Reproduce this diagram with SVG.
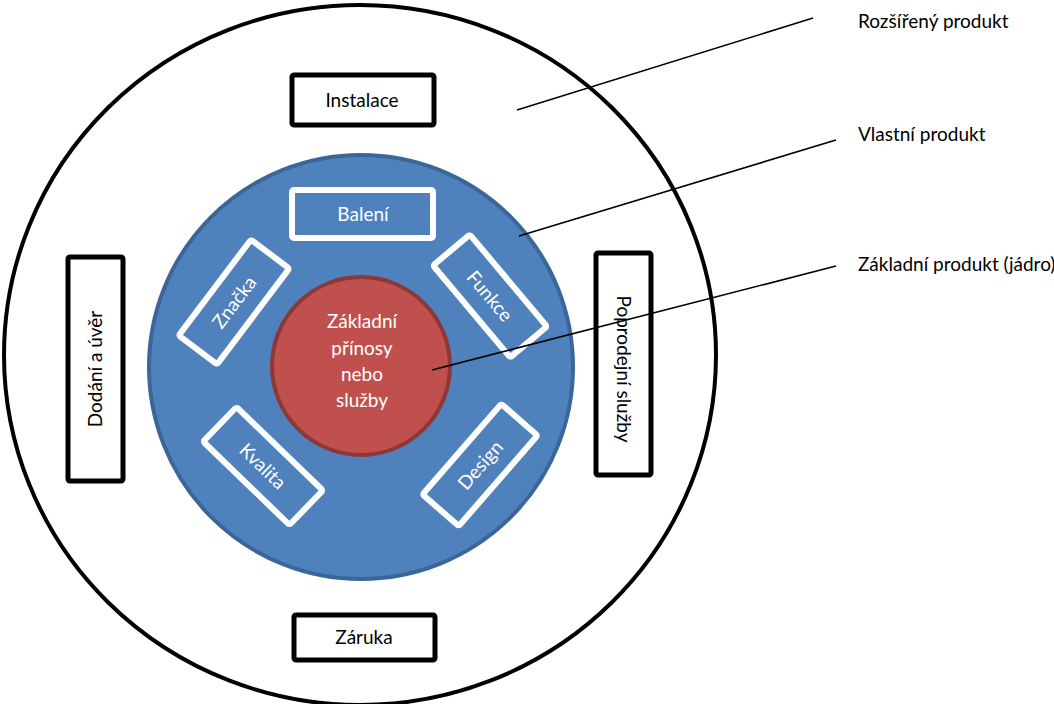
<svg xmlns="http://www.w3.org/2000/svg" width="1054" height="704" viewBox="0 0 1054 704">
<style>
text{font-family:Lato,"Open Sans","Liberation Sans",sans-serif;font-size:19px}
.dark{fill:#000}
.wt{fill:#fff}
.obox{fill:#fff;stroke:#000;stroke-width:5}
.ibox{fill:#4f81bd;stroke:#fff;stroke-width:6}
.ln{stroke:#000;stroke-width:1.6;fill:none}
</style>
<rect width="1054" height="704" fill="#fff"/>
<g id="outer"><ellipse cx="360" cy="355" rx="356" ry="350" fill="#fff" stroke="#000" stroke-width="4"/></g>
<g id="inner"><circle cx="361" cy="367" r="212" fill="#4f81bd" stroke="#3a6699" stroke-width="4"/></g>
<g id="core">
<circle cx="361" cy="366" r="89" fill="#c0504d" stroke="#8c3836" stroke-width="4"/>
<text class="wt" text-anchor="middle"><tspan x="362" y="328">Základní</tspan><tspan x="362" y="355">přínosy</tspan><tspan x="362" y="381">nebo</tspan><tspan x="362" y="407">služby</tspan></text>
</g>
<g id="instalace"><rect class="obox" x="292" y="75" width="142" height="50" rx="2"/><text class="dark" x="362" y="107" text-anchor="middle">Instalace</text></g>
<g id="zaruka"><rect class="obox" x="294" y="615" width="141" height="45" rx="2"/><text class="dark" x="364" y="644" text-anchor="middle">Záruka</text></g>
<g id="dodani"><rect class="obox" x="68" y="257" width="55" height="224" rx="2"/><text class="dark" transform="translate(102,369) rotate(-90)" text-anchor="middle">Dodání a úvěr</text></g>
<g id="poprodejni"><rect class="obox" x="596" y="253" width="55" height="222" rx="2"/><text class="dark" transform="translate(617,369) rotate(90)" text-anchor="middle">Poprodejní služby</text></g>
<g id="baleni"><rect class="ibox" x="292" y="190" width="141" height="48" rx="2"/><text class="wt" x="363" y="221" text-anchor="middle">Balení</text></g>
<g id="znacka" transform="translate(234,302) rotate(-53)"><rect class="ibox" x="-60" y="-24" width="120" height="48" rx="2"/><text class="wt" x="0" y="7" text-anchor="middle">Značka</text></g>
<g id="funkce" transform="translate(490,296) rotate(50)"><rect class="ibox" x="-60" y="-24" width="120" height="48" rx="2"/><text class="wt" x="0" y="7" text-anchor="middle">Funkce</text></g>
<g id="kvalita" transform="translate(263,466) rotate(44)"><rect class="ibox" x="-60" y="-24" width="120" height="48" rx="2"/><text class="wt" x="0" y="7" text-anchor="middle">Kvalita</text></g>
<g id="design" transform="translate(480,465) rotate(-49)"><rect class="ibox" x="-60" y="-24" width="120" height="48" rx="2"/><text class="wt" x="0" y="7" text-anchor="middle">Design</text></g>
<g id="connectors">
<line class="ln" x1="517" y1="110" x2="813" y2="18"/>
<line class="ln" x1="519" y1="236" x2="836" y2="140"/>
<line class="ln" x1="432" y1="370" x2="836" y2="266"/>
</g>
<g id="labels">
<text class="dark" x="858" y="28">Rozšířený produkt</text>
<text class="dark" x="858" y="141">Vlastní produkt</text>
<text class="dark" x="858" y="271">Základní produkt (jádro)</text>
</g>
</svg>
